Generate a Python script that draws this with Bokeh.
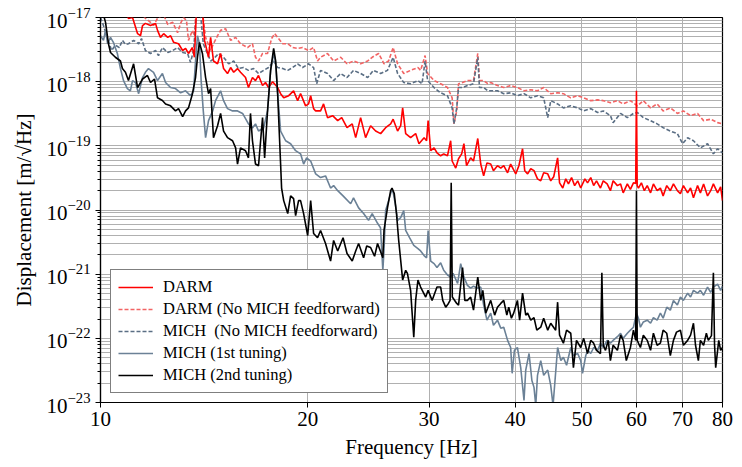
from bokeh.plotting import figure
from bokeh.models import Range1d, FixedTicker, CustomJSTickFormatter, LogTickFormatter, Legend, LegendItem
from bokeh.embed import file_html
from bokeh.resources import INLINE

# ---------------- data: (frequency [Hz], displacement [m/sqrt(Hz)]) ----------------
darm = [(10.0,1.5e-17),(10.69,1.4e-17),(10.87,1.2e-17),(10.98,9.7e-18),(11.13,1.0e-17),(11.32,5.6e-18),(11.43,5.2e-18),(11.51,7.5e-18),(11.62,8.1e-18),(11.82,7.5e-18),(12.02,8.1e-18),(12.10,6.3e-18),(12.22,4.9e-18),(12.35,5.6e-18),(12.52,4.9e-18),(12.64,5.2e-18),(12.77,4.1e-18),(12.98,3.9e-18),(13.16,3.06e-18),(13.29,3.3e-18),(13.42,2.75e-18),(13.60,3.4e-18),(13.69,2.4e-18),(13.79,1.5e-17),(13.92,1.8e-17),(14.06,1.3e-17),(14.16,4.4e-18),(14.35,2.4e-18),(14.45,4.9e-18),(14.59,2.1e-18),(14.79,1.9e-18),(14.94,2.75e-18),(15.09,1.6e-18),(15.29,1.34e-18),(15.45,1.66e-18),(15.61,1.4e-18),(15.81,1.6e-18),(15.97,1.4e-18),(16.24,1.16e-18),(16.40,8.1e-19),(16.62,1.16e-18),(16.79,1.04e-18),(16.96,1.25e-18),(17.19,8.7e-19),(17.36,9.7e-19),(17.54,8.1e-19),(17.78,1.0e-18),(18.08,8.1e-19),(18.26,6.5e-19),(18.45,5.6e-19),(18.76,6.05e-19),(19.07,7.2e-19),(19.33,5.06e-19),(19.52,6.5e-19),(19.85,4.2e-19),(20.05,4.5e-19),(20.19,6.05e-19),(20.39,3.8e-19),(20.53,3.5e-19),(20.87,3.5e-19),(21.08,4.5e-19),(21.36,2.75e-19),(21.73,2.95e-19),(22.1,2.47e-19),(22.4,2.75e-19),(22.8,1.92e-19),(23.2,2.2e-19),(23.47,1.34e-19),(23.86,2.75e-19),(24.26,1.34e-19),(24.67,2.06e-19),(25.09,1.7e-19),(25.51,1.55e-19),(25.94,1.92e-19),(26.38,2.2e-19),(26.6,2.6e-19),(27.0,1.7e-19),(27.28,2.06e-19),(27.46,3.9e-19),(27.74,1.55e-19),(28.2,1.34e-19),(28.68,1.55e-19),(29.0,1.08e-19),(29.5,1.34e-19),(29.75,1.2e-19),(29.9,2.47e-19),(30.16,8.4e-20),(30.5,9.3e-20),(30.8,7.8e-20),(31.18,7.0e-20),(31.5,7.5e-20),(31.9,7.0e-20),(32.24,1.2e-19),(32.4,5.8e-20),(32.79,4.5e-20),(33.1,6.3e-20),(33.45,7.5e-20),(33.7,1.08e-19),(34.0,4.9e-20),(34.47,6.5e-20),(34.8,5.8e-20),(35.3,1.3e-19),(35.65,5.2e-20),(36.0,3.4e-20),(36.4,5.4e-20),(36.86,5.2e-20),(37.2,4.1e-20),(37.7,4.9e-20),(38.12,4.5e-20),(38.5,4.9e-20),(39.0,3.8e-20),(39.4,5.2e-20),(40.08,3.66e-20),(40.5,4.9e-20),(41.0,9.0e-20),(41.3,4.1e-20),(41.7,3.66e-20),(42.14,4.4e-20),(42.6,4.1e-20),(43.1,3.06e-20),(43.57,2.85e-20),(44.0,3.8e-20),(44.6,3.66e-20),(45.05,2.85e-20),(45.5,3.3e-20),(46.1,6.5e-20),(46.4,2.65e-20),(46.9,2.2e-20),(47.37,3.06e-20),(47.8,2.55e-20),(48.3,3.2e-20),(48.8,2.4e-20),(49.3,2.85e-20),(49.8,2.2e-20),(50.5,3.06e-20),(50.95,2.65e-20),(51.5,3.2e-20),(52.0,2.4e-20),(52.5,2.85e-20),(53.2,2.2e-20),(53.7,2.85e-20),(54.4,2.55e-20),(55.0,2.0e-20),(55.5,2.85e-20),(56.3,2.4e-20),(56.9,2.55e-20),(57.4,1.85e-20),(58.2,2.55e-20),(58.8,2.1e-20),(59.4,2.65e-20),(59.85,2.6e-20),(60.0,7.2e-19),(60.15,2.4e-20),(60.4,2.2e-20),(61.0,2.65e-20),(61.6,2.0e-20),(62.2,2.4e-20),(62.9,1.85e-20),(63.5,2.55e-20),(64.3,2.0e-20),(65.0,2.2e-20),(65.6,1.66e-20),(66.4,2.4e-20),(67.2,2.0e-20),(67.9,2.55e-20),(68.8,2.0e-20),(69.5,1.8e-20),(70.2,2.4e-20),(71.2,1.85e-20),(71.9,2.2e-20),(72.6,1.55e-20),(73.6,2.4e-20),(74.3,1.85e-20),(75.1,2.55e-20),(76.1,1.66e-20),(76.9,2.0e-20),(77.6,2.55e-20),(78.7,1.85e-20),(79.5,2.3e-20),(80.0,1.4e-20)]

darm_noff = [(10.0,1.8e-17),(11.24,1.5e-17),(11.62,9.7e-18),(11.82,8.4e-18),(11.94,7.5e-18),(12.10,9.7e-18),(12.35,1.1e-17),(12.52,7.8e-18),(12.73,8.4e-18),(12.94,5.8e-18),(13.07,8.1e-18),(13.2,1.0e-17),(13.33,9.0e-18),(13.42,4.4e-18),(13.60,6.3e-18),(13.69,5.2e-18),(13.79,1.8e-17),(13.92,1.8e-17),(14.06,1.2e-17),(14.21,4.9e-18),(14.45,3.06e-18),(14.59,3.9e-18),(14.79,5.2e-18),(14.94,6.3e-18),(15.19,6.7e-18),(15.45,4.4e-18),(15.71,4.9e-18),(15.97,3.9e-18),(16.35,3.4e-18),(16.62,3.9e-18),(16.79,2.4e-18),(16.96,2.1e-18),(17.19,2.75e-18),(17.48,2.75e-18),(17.72,4.7e-18),(17.9,5.6e-18),(18.08,4.9e-18),(18.39,3.9e-18),(18.70,3.9e-18),(19.01,3.4e-18),(19.33,3.3e-18),(19.65,3.4e-18),(20.05,3.06e-18),(20.39,3.4e-18),(20.66,2.1e-18),(20.87,2.4e-18),(21.36,2.75e-18),(21.80,2.1e-18),(22.32,2.4e-18),(22.8,1.9e-18),(23.3,2.1e-18),(23.86,1.9e-18),(24.43,2.1e-18),(24.8,2.4e-18),(25.34,2.75e-18),(25.8,1.9e-18),(26.2,2.1e-18),(26.6,3.4e-18),(27.0,1.9e-18),(27.56,1.34e-18),(28.2,1.5e-18),(28.9,1.66e-18),(29.16,1.5e-18),(29.6,2.55e-18),(29.85,1.34e-18),(30.5,1.04e-18),(31.18,9.3e-19),(31.9,8.1e-19),(32.4,5.6e-19),(32.6,2.2e-19),(32.9,3.5e-19),(33.1,9.3e-19),(33.55,9.7e-19),(34.1,1.04e-18),(34.8,1.04e-18),(35.3,2.75e-18),(35.5,1.04e-18),(36.0,1.04e-18),(36.5,9.3e-19),(36.86,9.7e-19),(37.7,8.7e-19),(38.5,8.1e-19),(39.4,8.7e-19),(40.3,8.1e-19),(41.2,7.2e-19),(42.14,7.5e-19),(43.1,7.2e-19),(44.0,8.1e-19),(45.05,6.5e-19),(46.1,6.7e-19),(47.0,6.5e-19),(48.17,5.6e-19),(49.3,6.05e-19),(50.3,5.6e-19),(51.5,5.06e-19),(52.7,5.2e-19),(53.7,5.06e-19),(55.0,4.7e-19),(56.3,5.06e-19),(57.4,4.5e-19),(58.8,5.06e-19),(60.2,4.2e-19),(61.4,5.06e-19),(62.9,3.9e-19),(64.3,4.5e-19),(65.6,3.5e-19),(67.2,3.9e-19),(68.8,3.2e-19),(70.2,3.5e-19),(71.9,2.95e-19),(73.6,3.2e-19),(75.1,2.47e-19),(76.9,2.6e-19),(78.7,2.3e-19),(80.0,2.2e-19)]

mich_noff = [(10.0,1.0e-17),(10.1,7.5e-18),(10.24,4.7e-18),(10.38,3.06e-18),(10.51,3.7e-18),(10.65,3.4e-18),(10.76,4.4e-18),(10.87,3.8e-18),(10.98,3.9e-18),(11.17,4.4e-18),(11.36,3.9e-18),(11.47,4.7e-18),(11.62,3.06e-18),(11.82,2.75e-18),(12.02,3.06e-18),(12.14,2.55e-18),(12.30,3.4e-18),(12.52,2.85e-18),(12.73,3.06e-18),(12.94,3.4e-18),(13.16,2.85e-18),(13.38,2.75e-18),(13.51,2.0e-18),(13.65,3.06e-18),(13.79,1.3e-17),(13.88,1.8e-17),(14.0,9.0e-18),(14.1,3.9e-18),(14.3,2.75e-18),(14.45,2.1e-18),(14.59,2.25e-18),(14.84,2.75e-18),(15.09,2.4e-18),(15.35,1.9e-18),(15.61,2.1e-18),(15.86,1.6e-18),(16.13,1.66e-18),(16.40,1.5e-18),(16.68,1.6e-18),(16.96,1.34e-18),(17.25,1.5e-18),(17.54,1.66e-18),(17.84,2.1e-18),(18.08,1.66e-18),(18.39,1.6e-18),(18.70,1.5e-18),(19.01,1.66e-18),(19.33,1.9e-18),(19.65,1.66e-18),(20.05,1.9e-18),(20.39,1.66e-18),(20.6,9.3e-19),(20.87,1.5e-18),(21.36,1.34e-18),(21.80,1.04e-18),(22.32,1.34e-18),(22.8,1.16e-18),(23.3,1.5e-18),(23.86,1.34e-18),(24.43,1.16e-18),(24.9,1.5e-18),(25.51,1.34e-18),(26.1,1.5e-18),(26.6,2.4e-18),(27.0,1.34e-18),(27.56,9.7e-19),(28.2,9.3e-19),(28.9,1.04e-18),(29.3,9.3e-19),(29.6,2.1e-18),(29.85,1.04e-18),(30.5,8.1e-19),(31.18,6.7e-19),(31.9,6.05e-19),(32.4,3.9e-19),(32.6,2.2e-19),(32.9,3.9e-19),(33.1,8.1e-19),(33.55,8.1e-19),(34.1,8.7e-19),(34.8,9.3e-19),(35.3,2.4e-18),(35.5,8.1e-19),(36.0,8.1e-19),(36.5,7.2e-19),(37.7,7.2e-19),(38.5,6.5e-19),(39.4,6.7e-19),(40.3,6.05e-19),(41.2,6.5e-19),(42.14,5.6e-19),(43.1,6.05e-19),(44.0,5.6e-19),(44.6,2.75e-19),(45.05,5.06e-19),(46.1,4.5e-19),(47.0,3.9e-19),(48.17,4.2e-19),(49.3,3.9e-19),(50.3,3.5e-19),(51.5,3.8e-19),(52.7,3.3e-19),(53.7,3.5e-19),(55.0,2.95e-19),(55.5,2.3e-19),(56.9,3.2e-19),(58.2,2.75e-19),(59.4,3.2e-19),(60.2,3.3e-19),(61.4,2.75e-19),(62.9,2.47e-19),(64.3,2.2e-19),(65.6,1.92e-19),(67.2,1.7e-19),(68.8,1.55e-19),(70.0,1.08e-19),(71.2,1.34e-19),(72.6,1.2e-19),(74.3,9.3e-20),(76.1,1.08e-19),(77.6,7.5e-20),(78.7,9.0e-20),(80.0,7.8e-20)]

mich_1st = [(10.0,5.2e-18),(10.1,4.4e-18),(10.17,6.3e-18),(10.24,3.9e-18),(10.34,4.9e-18),(10.44,4.1e-18),(10.58,2.75e-18),(10.69,1.6e-18),(10.8,1.04e-18),(10.94,7.8e-19),(11.05,7.2e-19),(11.13,1.04e-18),(11.24,9.7e-19),(11.36,6.5e-19),(11.51,1.16e-18),(11.62,1.4e-18),(11.74,1.6e-18),(11.94,1.4e-18),(12.10,1.04e-18),(12.30,1.34e-18),(12.43,9.7e-19),(12.64,8.1e-19),(12.85,7.8e-19),(13.07,6.7e-19),(13.29,7.2e-19),(13.51,6.05e-19),(13.65,7.2e-19),(13.74,2.1e-18),(13.83,5.2e-18),(13.92,3.9e-18),(14.0,1.04e-18),(14.1,3.5e-19),(14.21,1.34e-19),(14.35,2.47e-19),(14.55,3.5e-19),(14.69,5.06e-19),(14.94,7.2e-19),(15.09,5.06e-19),(15.29,3.8e-19),(15.55,3.5e-19),(15.81,3.5e-19),(16.08,3.2e-19),(16.40,2.2e-19),(16.62,1.9e-19),(16.79,2.2e-19),(16.96,1.7e-19),(17.25,1.9e-19),(17.48,3.5e-19),(17.66,1.5e-18),(17.84,2.75e-18),(17.96,2.0e-18),(18.08,6.5e-19),(18.26,1.7e-19),(18.57,1.2e-19),(18.88,1.08e-19),(19.20,8.4e-20),(19.52,7.5e-20),(19.72,5.2e-20),(19.92,6.5e-20),(20.19,5.8e-20),(20.53,3.66e-20),(20.87,3.2e-20),(21.22,3.4e-20),(21.58,2.2e-20),(21.8,2.4e-20),(22.1,2.0e-20),(22.5,1.66e-20),(23.08,1.25e-20),(23.3,1.55e-20),(23.7,1.08e-20),(24.1,8.8e-21),(24.5,6.9e-21),(24.8,8.8e-21),(25.25,6.2e-21),(25.5,5.3e-21),(25.7,1.15e-21),(25.8,2.35e-21),(25.94,9.8e-21),(26.2,1.4e-20),(26.45,2.0e-20),(26.6,1.9e-20),(26.82,1.16e-20),(27.0,6.9e-21),(27.28,7.6e-21),(27.56,9.8e-21),(27.74,4.8e-21),(28.1,3.7e-21),(28.5,2.8e-21),(28.9,2.5e-21),(29.16,2.3e-21),(29.5,1.95e-21),(29.75,1.8e-21),(29.9,4.8e-21),(30.16,1.6e-21),(30.5,1.46e-21),(30.8,1.27e-21),(31.18,1.5e-21),(31.5,1.15e-21),(31.9,9.7e-22),(32.24,9.0e-22),(32.5,1.03e-21),(33.0,7.2e-22),(33.34,1.46e-21),(33.7,9.0e-22),(34.1,6.7e-22),(34.47,6.05e-22),(34.8,6.5e-22),(35.3,6.05e-22),(35.65,6.3e-22),(36.0,3.3e-22),(36.4,1.92e-22),(36.86,2.47e-22),(37.2,1.6e-22),(37.7,1.92e-22),(38.12,1.44e-22),(38.5,1.49e-22),(39.0,9.3e-23),(39.4,7.2e-23),(39.6,2.85e-23),(39.9,6.5e-23),(40.3,7.2e-23),(40.75,3.5e-23),(41.2,1.08e-23),(41.44,3.2e-23),(41.9,5.8e-23),(42.3,2.2e-23),(42.6,1.72e-23),(42.85,9.0e-24),(43.1,2.65e-23),(43.57,4.5e-23),(44.0,2.65e-23),(44.6,3.2e-23),(45.05,1.85e-23),(45.4,9.0e-24),(45.7,2.2e-23),(46.1,7.2e-23),(46.6,4.5e-23),(47.0,5.06e-23),(47.5,3.8e-23),(48.17,7.2e-23),(48.6,5.4e-23),(49.3,5.8e-23),(49.8,4.5e-23),(50.1,2.85e-23),(50.65,5.4e-23),(51.0,6.5e-23),(51.5,5.8e-23),(52.0,7.2e-23),(52.7,6.5e-23),(53.2,8.4e-23),(53.7,7.2e-23),(54.4,9.3e-23),(55.0,8.4e-23),(55.5,9.3e-23),(56.3,1.06e-22),(56.9,1.2e-22),(57.4,1.0e-22),(58.2,1.2e-22),(58.8,1.34e-22),(59.4,1.49e-22),(60.0,2.47e-22),(60.4,2.06e-22),(60.8,1.49e-22),(61.4,1.8e-22),(62.2,1.92e-22),(62.9,1.72e-22),(63.5,2.1e-22),(64.3,1.92e-22),(65.0,2.47e-22),(65.6,2.06e-22),(66.4,3.06e-22),(67.2,2.75e-22),(67.9,3.9e-22),(68.8,3.3e-22),(69.5,4.4e-22),(70.2,3.9e-22),(71.2,5.06e-22),(71.9,4.4e-22),(72.6,5.6e-22),(73.6,5.06e-22),(74.3,5.6e-22),(75.1,4.7e-22),(76.1,6.3e-22),(76.9,5.2e-22),(77.6,6.3e-22),(78.7,7.0e-22),(79.5,5.6e-22),(80.0,6.5e-22)]

mich_2nd = [(10.0,1.4e-17),(10.1,1.1e-17),(10.17,8.4e-18),(10.27,3.9e-18),(10.34,2.85e-18),(10.51,2.4e-18),(10.69,2.1e-18),(10.76,1.6e-18),(10.87,1.4e-18),(10.98,1.04e-18),(11.17,1.9e-18),(11.32,8.1e-19),(11.51,1.1e-18),(11.70,1.25e-18),(11.82,9.7e-19),(11.98,1.1e-18),(12.10,5.6e-19),(12.30,5.1e-19),(12.43,4.5e-19),(12.64,4.2e-19),(12.85,3.5e-19),(12.98,3.8e-19),(13.16,2.85e-19),(13.29,3.5e-19),(13.42,3.9e-19),(13.60,6.5e-19),(13.74,1.16e-18),(13.83,2.4e-18),(13.92,4.1e-18),(14.06,2.75e-18),(14.21,1.16e-18),(14.35,6.5e-19),(14.45,7.8e-19),(14.59,1.34e-19),(14.79,2.06e-19),(14.94,3.2e-19),(15.09,1.7e-19),(15.29,1.34e-19),(15.55,1.2e-19),(15.71,9.3e-20),(15.81,5.2e-20),(15.97,9.3e-20),(16.24,8.4e-20),(16.40,6.5e-20),(16.51,3.2e-19),(16.62,1.2e-19),(16.79,5.2e-20),(16.96,4.9e-20),(17.19,2.75e-19),(17.31,6.5e-20),(17.48,3.5e-19),(17.66,1.5e-18),(17.84,3.3e-18),(17.96,2.1e-18),(18.08,6.5e-19),(18.26,5.2e-20),(18.32,2.2e-20),(18.45,1.4e-20),(18.70,8.8e-21),(18.88,1.66e-20),(19.07,1.5e-20),(19.20,8.2e-21),(19.39,1.4e-20),(19.52,1.4e-20),(19.72,8.8e-21),(19.99,4.0e-21),(20.19,1.4e-20),(20.39,4.3e-21),(20.66,3.7e-21),(20.87,4.8e-21),(21.22,3.0e-21),(21.58,1.6e-21),(21.80,3.35e-21),(22.1,2.3e-21),(22.5,3.7e-21),(22.8,2.1e-21),(23.2,1.6e-21),(23.47,2.3e-21),(23.7,3.0e-21),(24.1,1.8e-21),(24.35,2.75e-21),(24.67,2.6e-21),(25.0,1.9e-21),(25.25,3.0e-21),(25.7,1.8e-21),(25.8,4.8e-21),(26.1,1.08e-20),(26.38,2.0e-20),(26.5,2.2e-20),(26.7,1.8e-20),(26.9,8.8e-21),(27.1,3.35e-21),(27.46,8.1e-22),(27.74,1.15e-21),(27.9,1.03e-21),(28.2,5.6e-22),(28.5,1.04e-22),(28.68,3.9e-22),(28.9,8.1e-22),(29.16,6.3e-22),(29.66,4.4e-22),(29.9,5.6e-22),(30.3,3.9e-22),(30.8,6.3e-22),(31.18,6.3e-22),(31.4,3.9e-22),(31.71,3.06e-22),(32.0,3.5e-22),(32.18,3.9e-22),(32.3,2.65e-20),(32.42,4.4e-22),(32.9,3.5e-22),(33.1,3.3e-22),(33.55,1.27e-21),(33.8,3.9e-22),(34.1,3.9e-22),(34.47,4.4e-22),(34.8,2.75e-22),(35.3,9.0e-22),(35.65,3.9e-22),(35.9,5.6e-22),(36.25,2.47e-22),(36.86,3.9e-22),(37.35,2.3e-22),(37.7,3.06e-22),(38.12,3.5e-22),(38.5,3.9e-22),(38.9,2.3e-22),(39.15,3.06e-22),(39.5,2.06e-22),(39.8,2.47e-22),(40.3,3.9e-22),(40.6,1.92e-22),(41.0,5.06e-22),(41.44,2.3e-22),(41.7,2.47e-22),(42.14,1.92e-22),(42.6,2.1e-22),(43.0,1.34e-22),(43.57,1.49e-22),(44.0,2.06e-22),(44.6,1.34e-22),(45.05,1.72e-22),(45.8,1.34e-22),(46.1,3.66e-22),(46.4,1.12e-22),(47.0,8.4e-23),(47.5,1.34e-22),(48.17,1.2e-22),(48.6,3.5e-23),(49.1,9.3e-23),(49.8,7.2e-23),(50.3,1.0e-22),(50.95,5.8e-23),(51.5,9.3e-23),(52.0,8.4e-23),(52.5,6.5e-23),(53.2,5.8e-23),(53.45,1.05e-21),(53.7,7.8e-23),(54.1,6.5e-23),(54.6,9.3e-23),(55.0,4.5e-23),(55.5,7.8e-23),(56.3,6.5e-23),(56.9,1.12e-22),(57.4,9.3e-23),(58.0,4.5e-23),(58.8,7.2e-23),(59.4,1.34e-22),(59.85,9.3e-23),(60.0,2.0e-20),(60.15,9.3e-23),(60.8,7.2e-23),(61.4,1.12e-22),(62.2,9.3e-23),(62.9,6.5e-23),(63.5,1.2e-22),(64.3,7.8e-23),(65.0,8.4e-23),(65.6,1.34e-22),(66.4,1.2e-22),(67.2,5.4e-23),(67.9,9.3e-23),(68.6,1.25e-22),(69.5,1.34e-22),(70.2,7.8e-23),(71.2,9.3e-23),(71.9,1.12e-22),(72.6,1.72e-22),(73.1,7.8e-23),(73.8,4.5e-23),(74.3,9.3e-23),(75.1,7.8e-23),(75.8,1.2e-22),(76.3,9.3e-23),(77.1,1.1e-22),(77.6,1.05e-21),(77.9,8.0e-23),(78.2,3.5e-23),(79.0,9.3e-23),(79.5,6.5e-23),(80.0,7.2e-23)]

labels = ["DARM", "DARM (No MICH feedforward)", "MICH  (No MICH feedforward)",
          "MICH (1st tuning)", "MICH (2nd tuning)"]
y_exponents = [-23, -22, -21, -20, -19, -18, -17]
x_ticks = [10, 20, 30, 40, 50, 60, 70, 80]

# ---------------- figure ----------------
FONT = "Liberation Serif"
p = figure(width=738, height=463, x_axis_type="log", y_axis_type="log",
           x_range=Range1d(10, 80), y_range=Range1d(1e-23, 1e-17),
           output_backend="svg", toolbar_location=None,
           min_border_left=100, min_border_right=16, min_border_top=17, min_border_bottom=61)

p.background_fill_color = "white"
p.border_fill_color = "white"
p.outline_line_color = "black"
p.outline_line_width = 1.2

def xs(d):
    return [a for a, b in d]

def ys(d):
    return [b for a, b in d]

r_dnoff = p.line(xs(darm_noff), ys(darm_noff), line_color="#f26464", line_width=1.6, line_dash="4 2")
r_mnoff = p.line(xs(mich_noff), ys(mich_noff), line_color="#5a6e84", line_width=1.6, line_dash="4 2")
r_darm = p.line(xs(darm), ys(darm), line_color="#ff0000", line_width=1.6)
r_m1 = p.line(xs(mich_1st), ys(mich_1st), line_color="#6b8196", line_width=1.6)
r_m2 = p.line(xs(mich_2nd), ys(mich_2nd), line_color="#000000", line_width=1.6)

# axes / ticks
minor = [m * 10.0 ** e for e in y_exponents[:-1] for m in range(2, 10)]
p.yaxis.ticker = FixedTicker(ticks=[10.0 ** e for e in y_exponents], minor_ticks=minor)
p.xaxis.ticker = FixedTicker(ticks=x_ticks, minor_ticks=[])
p.yaxis.formatter = LogTickFormatter()
p.xaxis.formatter = CustomJSTickFormatter(code="return Math.round(tick).toString();")

for ax in (p.xaxis, p.yaxis):
    ax.axis_line_color = "black"
    ax.axis_line_width = 1.2
    ax.major_tick_line_color = "black"
    ax.minor_tick_line_color = "black"
    ax.major_tick_out = 5
    ax.major_tick_in = 0
    ax.minor_tick_out = 3
    ax.minor_tick_in = 0
    ax.major_label_text_font = FONT
    ax.major_label_text_font_size = "21px"
    ax.major_label_text_color = "black"
    ax.axis_label_text_font = FONT
    ax.axis_label_text_font_size = "21px"
    ax.axis_label_text_font_style = "normal"
    ax.axis_label_text_color = "black"

p.xaxis.minor_tick_line_color = None
p.xaxis.axis_label = "Frequency [Hz]"
p.yaxis.axis_label = "Displacement [m/\u221aHz]"
p.xaxis.major_label_standoff = 4
p.xaxis.axis_label_standoff = 6
p.yaxis.major_label_standoff = 5
p.yaxis.axis_label_standoff = 8

p.xgrid.grid_line_color = "#b0b0b0"
p.xgrid.grid_line_width = 1
p.ygrid.grid_line_color = "#b0b0b0"
p.ygrid.grid_line_width = 1
p.ygrid.minor_grid_line_color = "#b0b0b0"
p.ygrid.minor_grid_line_width = 1

legend = Legend(items=[
    LegendItem(label=labels[0], renderers=[r_darm]),
    LegendItem(label=labels[1], renderers=[r_dnoff]),
    LegendItem(label=labels[2], renderers=[r_mnoff]),
    LegendItem(label=labels[3], renderers=[r_m1]),
    LegendItem(label=labels[4], renderers=[r_m2]),
], location=(10, 9))
legend.label_text_font = FONT
legend.label_text_font_size = "16.5px"
legend.label_text_color = "black"
legend.glyph_width = 35
legend.glyph_height = 18
legend.label_height = 18
legend.label_standoff = 10
legend.spacing = 2
legend.padding = 7
legend.margin = 0
legend.border_line_color = "black"
legend.border_line_width = 1.2
legend.background_fill_color = "white"
legend.background_fill_alpha = 1.0
p.add_layout(legend)

open("out.html", "w").write(file_html(p, INLINE))
